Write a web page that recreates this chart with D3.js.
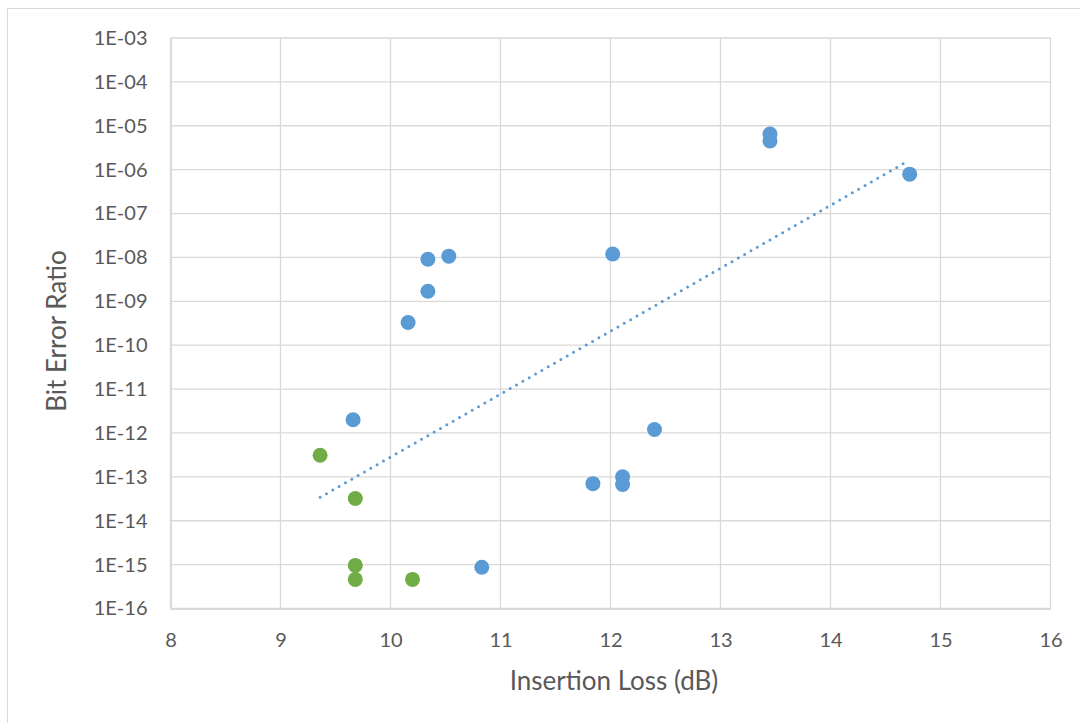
<!DOCTYPE html>
<html>
<head>
<meta charset="utf-8">
<script src="https://cdn.jsdelivr.net/npm/d3@7"></script>
<style>
  body { margin: 0; background: #fff; }
  text { font-family: Lato, "Open Sans", sans-serif; fill: #595959; }
</style>
</head>
<body>
<svg width="1080" height="723"></svg>
<script>
// blue series
var blueX = [9.66, 10.34, 10.53, 10.34, 10.16, 12.02, 12.40, 11.84, 12.11, 12.11, 10.83, 13.45, 13.45, 14.72];
var blueY = [2.0e-12, 9.1e-9, 1.07e-8, 1.7e-9, 3.3e-10, 1.2e-8, 1.2e-12, 7.0e-14, 1.0e-13, 6.7e-14, 8.7e-16, 6.5e-6, 4.5e-6, 7.9e-7];
// green series
var greenX = [9.36, 9.68, 9.68, 9.68, 10.20];
var greenY = [3.1e-13, 3.2e-14, 9.6e-16, 4.6e-16, 4.6e-16];
// exponential trendline: log10(y) = trendA + trendB * x
var trendRange = [9.36, 14.68];
var trendA = -26.89, trendB = 1.434;

var xTicks = [8, 9, 10, 11, 12, 13, 14, 15, 16];
var yTicks = [1e-16, 1e-15, 1e-14, 1e-13, 1e-12, 1e-11, 1e-10, 1e-9, 1e-8, 1e-7, 1e-6, 1e-5, 1e-4, 1e-3];

var svg = d3.select("svg"),
  margin = { left: 170.5, right: 1080 - 1050.5, top: 38, bottom: 723 - 608.5 },
  width = +svg.attr("width"),
  height = +svg.attr("height");

// chart border
svg.append("rect")
  .attr("x", 7.5).attr("y", 8.5)
  .attr("width", 1080).attr("height", 723)
  .attr("fill", "none").attr("stroke", "#d9d9d9");

var x = d3.scaleLinear().domain([8, 16]).range([margin.left, width - margin.right]);
var y = d3.scaleLog().domain([1e-16, 1e-3]).range([height - margin.bottom, margin.top]);

function fmt(v) {
  var e = Math.round(Math.log10(v));
  var s = String(Math.abs(e));
  if (s.length < 2) s = "0" + s;
  return "1E" + (e < 0 ? "-" : "+") + s;
}

// gridlines
svg.append("g")
  .selectAll("line.gy")
  .data(yTicks)
  .enter().append("line")
  .attr("x1", x(8)).attr("x2", x(16))
  .attr("y1", function (d) { return y(d); })
  .attr("y2", function (d) { return y(d); })
  .attr("stroke", "#d9d9d9").attr("stroke-width", 1.3);

svg.append("g")
  .selectAll("line.gx")
  .data(xTicks)
  .enter().append("line")
  .attr("y1", y(1e-3)).attr("y2", y(1e-16))
  .attr("x1", function (d) { return x(d); })
  .attr("x2", function (d) { return x(d); })
  .attr("stroke", "#d9d9d9").attr("stroke-width", 1.3);

// axes
var xAxis = svg.append("g")
  .attr("transform", "translate(0," + y(1e-16) + ")")
  .call(d3.axisBottom(x).tickValues(xTicks).tickSize(0).tickPadding(24).tickFormat(d3.format("d")));
var yAxis = svg.append("g")
  .attr("transform", "translate(" + x(8) + ",0)")
  .call(d3.axisLeft(y).tickValues(yTicks).tickSize(0).tickPadding(23).tickFormat(fmt));

[xAxis, yAxis].forEach(function (a) {
  a.select(".domain").attr("stroke", "#d9d9d9").attr("stroke-width", 2);
  a.selectAll("text").attr("font-size", "20px").style("fill", "#595959")
    .attr("font-family", "Lato, 'Open Sans', sans-serif");
});

// axis titles
svg.append("text")
  .attr("x", 614).attr("y", 690)
  .attr("text-anchor", "middle")
  .attr("font-size", "26px")
  .text("Insertion Loss (dB)");

svg.append("text")
  .attr("transform", "translate(66,331) rotate(-90)")
  .attr("text-anchor", "middle")
  .attr("font-size", "26px")
  .text("Bit Error Ratio");

// trendline
var trendData = d3.range(trendRange[0], trendRange[1] + 0.001, 0.05).map(function (v) {
  return [v, Math.pow(10, trendA + trendB * v)];
});
svg.append("path")
  .datum(trendData)
  .attr("d", d3.line()
    .x(function (d) { return x(d[0]); })
    .y(function (d) { return y(d[1]); }))
  .attr("fill", "none")
  .attr("stroke", "#5b9bd5")
  .attr("stroke-width", 3)
  .attr("stroke-linecap", "round")
  .attr("stroke-dasharray", "0 7.3");

// points
function drawSeries(xs, ys, color) {
  svg.append("g")
    .selectAll("circle")
    .data(xs.map(function (v, i) { return [v, ys[i]]; }))
    .enter().append("circle")
    .attr("cx", function (d) { return x(d[0]); })
    .attr("cy", function (d) { return y(d[1]); })
    .attr("r", 7.5)
    .attr("fill", color);
}
drawSeries(blueX, blueY, "#5b9bd5");
drawSeries(greenX, greenY, "#70ad47");
</script>
</body>
</html>
